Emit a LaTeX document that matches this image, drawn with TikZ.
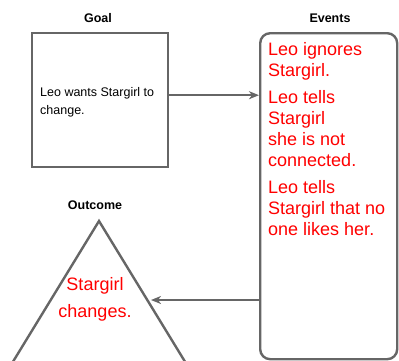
\documentclass[tikz,border=0pt]{standalone}
\usepackage{fontspec}
\setmainfont{Liberation Sans}
\usetikzlibrary{positioning, calc}
\usetikzlibrary{arrows.meta}
\definecolor{linegray}{HTML}{666666}
\definecolor{eventred}{HTML}{FF0000}

\begin{document}
\begin{tikzpicture}[x=1pt,y=-1pt,
	                    box/.style={draw=linegray,
	                                line width=2.4pt},
	                    title/.style={font=\bfseries\fontsize{12.5}{14}\selectfont},
	                    redtext/.style={text=eventred,
	                                    inner sep=0pt,
	                                    font=\fontsize{18}{21}\selectfont},
	                    post/.style={-{Stealth[length=10pt,width=8pt,inset=3pt]},
	                                 draw=linegray,
	                                 line width=1.8pt}]
	\useasboundingbox (0,0) rectangle (399,360);
	\clip (0,0) rectangle (399,360);
	% boxes
	\node [box, minimum width=136pt, minimum height=134pt, anchor=north west] (Goal) at (31,32) {};
	\node [box, rounded corners=10pt, minimum width=137pt, minimum height=326pt, anchor=north west] (Events) at (259,32) {};
	\coordinate (Apex) at (99,221);
	\coordinate (BaseL) at ($(Apex)+(-91.7,150)$);
	\coordinate (BaseR) at ($(Apex)+(91.7,150)$);
	\draw [linegray, line width=2.4pt, line join=miter] (BaseL) -- (Apex) -- (BaseR) -- cycle;

	% titles
	\node [title, anchor=base] (GoalTitle) at (98,22) {Goal};
	\node [title, anchor=base] (EventsTitle) at (330,22) {Events};
	\node [title, anchor=base] (OutcomeTitle) at (95,209) {Outcome};

	% texts
	\node [anchor=west, align=left, inner sep=0pt, font=\fontsize{12.5}{18}\selectfont] (GoalText) at ($(Goal.west)+(9,2)$) {Leo wants Stargirl to\\change.};
	\node [redtext, anchor=north west, align=left] (EventsText) at (268,42.5) {Leo ignores\\Stargirl.\\[6pt]Leo tells\\Stargirl\\she is not\\connected.\\[6pt]Leo tells\\Stargirl that no\\one likes her.};
	\node [redtext, align=center, font=\fontsize{18}{27}\selectfont] (OutcomeText) at (95,299) {Stargirl\\changes.};

	% connectors
	\coordinate (OutcomeEdge) at (151,300);
	\draw [post] ([yshift=5pt]Goal.east) -- ([yshift=5pt]Goal.east -| Events.west);
	\draw [post] (OutcomeEdge -| Events.west) -- (OutcomeEdge);
\end{tikzpicture}
\end{document}
